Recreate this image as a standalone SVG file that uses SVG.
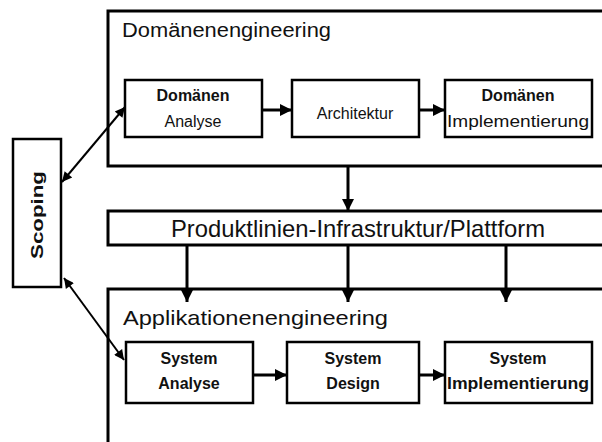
<svg xmlns="http://www.w3.org/2000/svg" width="602" height="442" viewBox="0 0 602 442">
<defs>
<marker id="ah" viewBox="0 0 10 10" refX="10" refY="5" markerWidth="4" markerHeight="4" orient="auto-start-reverse" markerUnits="strokeWidth">
<path d="M0,0 L10,5 L0,10 z" fill="#000"/>
</marker>
<marker id="ahs" viewBox="0 0 10 10" refX="10" refY="5" markerWidth="6" markerHeight="5" orient="auto-start-reverse" markerUnits="strokeWidth">
<path d="M0,0 L10,5 L0,10 z" fill="#000"/>
</marker>
</defs>
<style>
.big{fill:none;stroke:#000;stroke-width:3}
.box{fill:#fff;stroke:#000;stroke-width:2.5}
.t{font-family:"Liberation Sans",Arial,sans-serif;fill:#111}
.lbl{font-family:"Liberation Sans",Arial,sans-serif;font-size:16px;fill:#111;text-anchor:middle}
.b{font-weight:bold}
.c{stroke:#000;stroke-width:3;fill:none}
.cs{stroke:#000;stroke-width:2;fill:none}
</style>
<rect width="602" height="442" fill="#fff"/>
<g id="domaenenengineering">
<path class="big" d="M610 11 H108 V166 H610"/>
<text class="t" x="122" y="37" font-size="20" textLength="209" lengthAdjust="spacingAndGlyphs">Domänenengineering</text>
</g>
<g id="plattform">
<path class="big" d="M610 211 H108 V245 H610"/>
<text class="t" x="171" y="237" font-size="24" textLength="374" lengthAdjust="spacingAndGlyphs">Produktlinien-Infrastruktur/Plattform</text>
</g>
<g id="applikationenengineering">
<path class="big" d="M610 289 H108 V450"/>
<text class="t" x="123" y="325" font-size="21" textLength="265" lengthAdjust="spacingAndGlyphs">Applikationenengineering</text>
</g>
<g id="scoping">
<rect class="box" x="13" y="139" width="48" height="148"/>
<text class="t b" transform="translate(43 215) rotate(-90)" text-anchor="middle" font-size="17" textLength="88" lengthAdjust="spacingAndGlyphs">Scoping</text>
</g>
<g id="domaenen-analyse">
<rect class="box" x="125" y="80" width="137" height="57"/>
<text class="lbl b" x="193" y="101">Domänen</text>
<text class="lbl" x="193" y="127">Analyse</text>
</g>
<g id="architektur">
<rect class="box" x="292" y="80" width="127" height="57"/>
<text class="lbl" x="355" y="119">Architektur</text>
</g>
<g id="domaenen-implementierung">
<rect class="box" x="445" y="80" width="147" height="57"/>
<text class="lbl b" x="518" y="101">Domänen</text>
<text class="lbl" x="518" y="127" textLength="142" lengthAdjust="spacingAndGlyphs">Implementierung</text>
</g>
<g id="system-analyse">
<rect class="box" x="126" y="342" width="127" height="61"/>
<text class="lbl b" x="189" y="364">System</text>
<text class="lbl b" x="189" y="389">Analyse</text>
</g>
<g id="system-design">
<rect class="box" x="287" y="342" width="132" height="61"/>
<text class="lbl b" x="353" y="364">System</text>
<text class="lbl b" x="353" y="389">Design</text>
</g>
<g id="system-implementierung">
<rect class="box" x="445" y="342" width="147" height="61"/>
<text class="lbl b" x="518" y="364">System</text>
<text class="lbl b" x="518" y="389" textLength="142" lengthAdjust="spacingAndGlyphs">Implementierung</text>
</g>
<g id="connectors">
<line class="c" x1="262" y1="110" x2="292" y2="110" marker-end="url(#ah)"/>
<line class="c" x1="419" y1="110" x2="445" y2="110" marker-end="url(#ah)"/>
<line class="c" x1="253" y1="375" x2="287" y2="375" marker-end="url(#ah)"/>
<line class="c" x1="419" y1="375" x2="445" y2="375" marker-end="url(#ah)"/>
<line class="c" x1="348" y1="167" x2="348" y2="211" marker-end="url(#ah)"/>
<line class="c" x1="187" y1="245" x2="187" y2="302" marker-end="url(#ah)"/>
<line class="c" x1="348" y1="245" x2="348" y2="302" marker-end="url(#ah)"/>
<line class="c" x1="506" y1="245" x2="506" y2="302" marker-end="url(#ah)"/>
<line class="cs" x1="62" y1="182" x2="125" y2="107" marker-start="url(#ahs)" marker-end="url(#ahs)"/>
<line class="cs" x1="64" y1="278" x2="124" y2="360" marker-start="url(#ahs)" marker-end="url(#ahs)"/>
</g>
</svg>
